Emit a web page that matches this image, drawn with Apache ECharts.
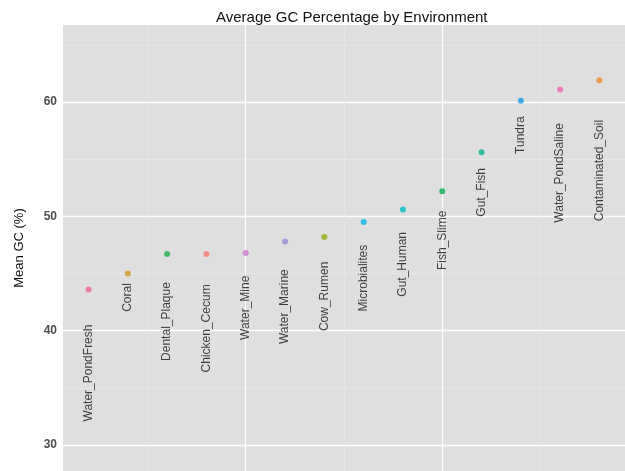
<!DOCTYPE html>
<html>
<head>
<meta charset="utf-8">
<script src="https://cdn.jsdelivr.net/npm/echarts@6/dist/echarts.min.js"></script>
<style>
html,body{margin:0;padding:0;background:#fff;}
#chart{width:625px;height:471px;}
</style>
</head>
<body>
<div id="chart"></div>
<script>
// ---- data ----
const environments = ["Water_PondFresh","Coral","Dental_Plaque","Chicken_Cecum","Water_Mine","Water_Marine","Cow_Rumen","Microbialites","Gut_Human","Fish_Slime","Gut_Fish","Tundra","Water_PondSaline","Contaminated_Soil"];
const meanGC = [43.6, 45.0, 46.7, 46.7, 46.8, 47.8, 48.2, 49.5, 50.6, 52.2, 55.6, 60.1, 61.1, 61.9];
// centre of each (repelled) text label, in Mean GC (%) units
const labelAt = [36.3, 42.9, 40.8, 40.2, 42.0, 42.1, 43.0, 44.6, 45.8, 47.9, 52.1, 57.1, 53.8, 54.0];
const pointColors = ["#F2619E","#D39A1C","#1DB14B","#F8766D","#CF78D0","#9A88DC","#93AC10","#00B4E6","#00B8C8","#00B050","#00B78A","#1E9AF0","#F263B6","#F28A1E"];
const yMajorTicks = [30, 40, 50, 60];
const yMinorTicks = [35, 45, 55, 65];
const xMajorTicks = [5, 10];
const xMinorTicks = [2.5, 7.5, 12.5];
const yRange = [27.73, 66.73];
const xRange = [0.35, 14.65];

const pointData = environments.map((e, i) => ({
  name: e,
  value: [i + 1, meanGC[i]],
  itemStyle: { color: pointColors[i] }
}));
const labelData = environments.map((e, i) => ({
  name: e,
  value: [i + 1, labelAt[i]]
}));

const font = "'Liberation Sans', Arial, Helvetica, sans-serif";
const chart = echarts.init(document.getElementById('chart'), null, { renderer: 'canvas' });

function hiddenAxisParts() {
  return {
    axisLine: { show: false },
    axisLabel: { show: false },
    axisTick: { show: false }
  };
}

chart.setOption({
  backgroundColor: '#ffffff',
  animation: false,
  title: {
    text: 'Average GC Percentage by Environment',
    left: 211,
    top: 5,
    textStyle: { fontFamily: font, fontSize: 15, fontWeight: 'normal', color: '#111111' }
  },
  grid: {
    left: 63, right: 0, top: 25, bottom: 0,
    show: true, backgroundColor: '#DFDFE0', borderWidth: 0
  },
  xAxis: [
    Object.assign({
      type: 'value', min: xRange[0], max: xRange[1],
      splitLine: { show: true, lineStyle: { color: '#FFFFFF', width: 1.3 } }
    }, hiddenAxisParts(), { axisTick: { show: false, customValues: xMajorTicks } }),
    Object.assign({
      type: 'value', min: xRange[0], max: xRange[1],
      splitLine: { show: true, lineStyle: { color: '#E9E9EA', width: 0.7 } }
    }, hiddenAxisParts(), { axisTick: { show: false, customValues: xMinorTicks } })
  ],
  yAxis: [
    {
      type: 'value', min: yRange[0], max: yRange[1],
      name: 'Mean GC (%)', nameLocation: 'middle', nameGap: 37,
      nameTextStyle: { fontFamily: font, fontSize: 13, color: '#111111' },
      axisLine: { show: false },
      axisTick: { show: false, customValues: yMajorTicks },
      axisLabel: {
        customValues: yMajorTicks, margin: 6,
        fontFamily: font, fontSize: 12, fontWeight: 'bold', color: '#4D4D4D'
      },
      splitLine: { show: true, lineStyle: { color: '#FFFFFF', width: 1.3 } }
    },
    Object.assign({
      type: 'value', min: yRange[0], max: yRange[1],
      splitLine: { show: true, lineStyle: { color: '#E9E9EA', width: 0.7 } }
    }, hiddenAxisParts(), { axisTick: { show: false, customValues: yMinorTicks } })
  ],
  series: [
    {
      type: 'scatter', name: 'labels',
      xAxisIndex: 0, yAxisIndex: 0,
      symbolSize: 0.1,
      itemStyle: { color: 'rgba(0,0,0,0)' },
      data: labelData,
      silent: true,
      label: {
        show: true, position: 'inside', rotate: 90,
        formatter: p => p.name,
        fontFamily: font, fontSize: 12, color: '#111111'
      },
      z: 3
    },
    {
      type: 'scatter', name: 'Mean GC',
      xAxisIndex: 0, yAxisIndex: 0,
      symbol: 'circle', symbolSize: 6,
      data: pointData,
      z: 4
    }
  ]
});
</script>
</body>
</html>
